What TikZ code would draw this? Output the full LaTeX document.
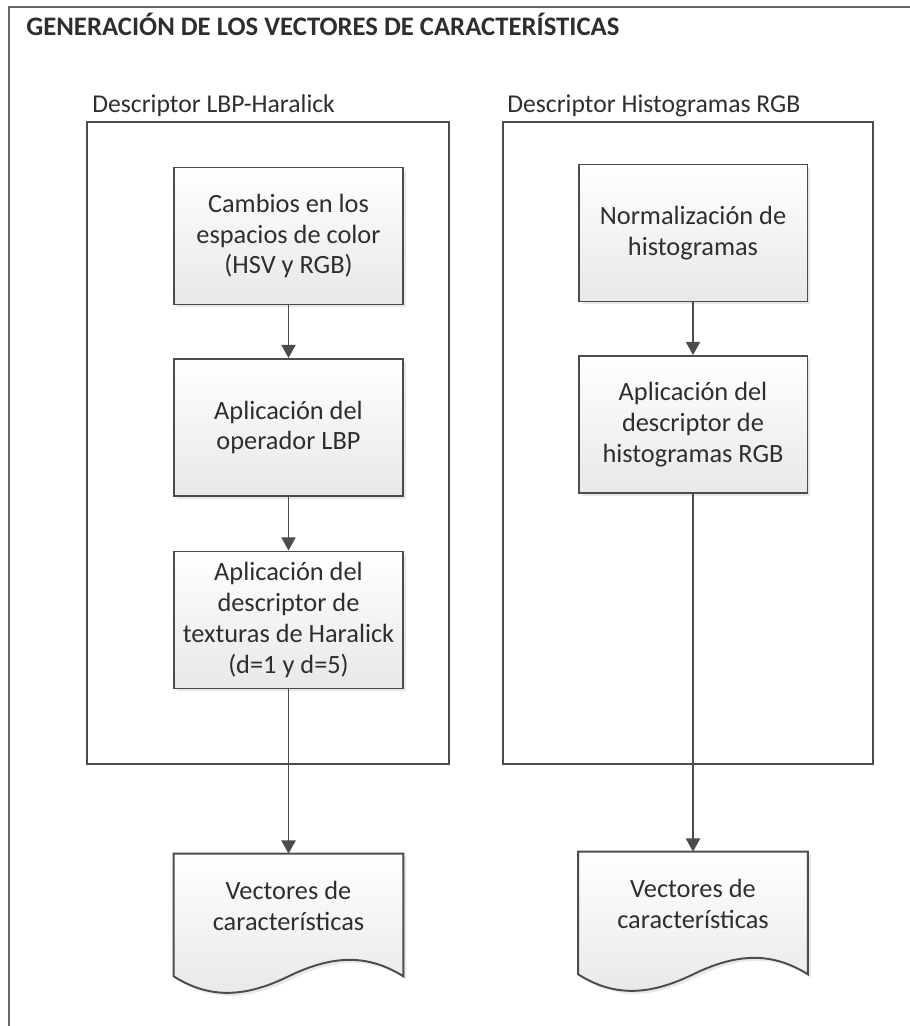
\documentclass[tikz,border=0pt]{standalone}
\usepackage{fontspec}
\setmainfont{Carlito}
\usepackage{xcolor}
\usetikzlibrary{arrows.meta,calc,backgrounds,shadows}

\definecolor{edge}{HTML}{4C4C4C}
\definecolor{ink}{HTML}{2E2E2E}
\definecolor{boxlo}{HTML}{E8E8E8}

\begin{document}
\begin{tikzpicture}[
    x=0.02cm, y=-0.02cm,
    font=\fontsize{15}{17.6}\selectfont,
    text=ink,
    >={Triangle[length=7.5pt,width=8pt]},
    proc/.style = {draw=edge, line width=1.1pt, top color=white, bottom color=boxlo,
                   minimum width=4.58cm, minimum height=2.74cm, align=center, inner sep=0pt,
                   drop shadow={opacity=.18, shadow xshift=.6mm, shadow yshift=-.6mm}},
    doc/.style  = {minimum width=4.58cm, minimum height=2.08cm, align=center, inner sep=0pt},
    docln/.style= {draw=edge, line width=1.1pt, top color=white, bottom color=boxlo,
                   drop shadow={opacity=.18, shadow xshift=.6mm, shadow yshift=-.6mm}},
    grp/.style  = {draw=edge, line width=1.1pt},
    frm/.style  = {draw=edge!85, line width=1.1pt},
    wire/.style = {draw=edge, line width=1.1pt, ->},
    hdr/.style  = {anchor=west, inner sep=0pt, font=\fontsize{14.6}{17}\selectfont},
    ttl/.style  = {anchor=west, inner sep=0pt, font=\fontsize{15.2}{17}\selectfont\bfseries},
]
\useasboundingbox (0,0) rectangle (909,1026);

% ============ outer frame + title ============
\draw[frm] (9,1040) -- (9,7) -- (920,7);
\node[ttl] (title) at (26,24) {GENERACIÓN DE LOS VECTORES DE CARACTERÍSTICAS};

% ============ (a) LBP-Haralick ============
\node[hdr] (hA) at (92,106) {Descriptor LBP-Haralick};
\draw[grp] (87,122) rectangle (449,764);
\node[proc] (a1) at (288.5,236)   {Cambios en los\\espacios de color\\(HSV y RGB)};
\node[proc] (a2) at (288.5,427.5) {Aplicación del\\operador LBP};
\node[proc] (a3) at (288.5,620)   {Aplicación del\\descriptor de\\texturas de Haralick\\(d=1 y d=5)};
\node[doc]  (aV) at (288.5,906)   {Vectores de\\características};
\draw[wire] (a1) -- (a2);
\draw[wire] (a2) -- (a3);
\draw[wire] (a3) -- (aV);

% ============ (b) Histogramas RGB ============
\node[hdr] (hB) at (507,106) {Descriptor Histogramas RGB};
\draw[grp] (503,122) rectangle (873,764);
\node[proc] (b1) at (693,233)   {Normalización de\\histogramas};
\node[proc] (b2) at (693,424.5) {Aplicación del\\descriptor de\\histogramas RGB};
\node[doc]  (bV) at (693,904)   {Vectores de\\características};
\draw[wire] (b1) -- (b2);
\draw[wire] (b2) -- (bV);

% document outlines, wavy bottom (behind the text)
\begin{scope}[on background layer]
  \foreach \d in {aV,bV}
    \path[docln] (\d.north west) -- (\d.north east) -- ($(\d.south east)+(0,18)$)
      .. controls ($(\d.south)+(80,-4)$) and ($(\d.south)+(45,-4)$) .. ($(\d.south)+(0,18)$)
      .. controls ($(\d.south)+(-45,40)$) and ($(\d.south)+(-80,40)$) .. ($(\d.south west)+(0,18)$)
      -- cycle;
\end{scope}

\end{tikzpicture}
\end{document}
